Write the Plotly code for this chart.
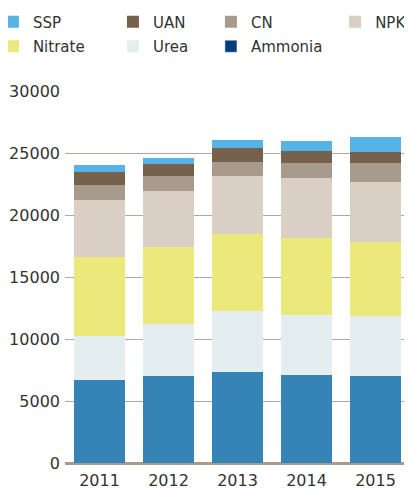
import plotly.graph_objects as go

years = ["2011", "2012", "2013", "2014", "2015"]

# segment heights, bottom of stack first
ammonia = [6700, 7000, 7350, 7100, 7000]
urea = [3570, 4230, 4910, 4840, 4880]
nitrate = [6340, 6190, 6210, 6230, 5970]
npk = [4600, 4520, 4680, 4810, 4810]
cn = [1210, 1210, 1120, 1210, 1530]
uan = [1050, 960, 1130, 970, 890]
ssp = [560, 490, 650, 810, 1210]

# name, values, colour, legend column, rank within column
series = [
    ("Urea", urea, "#e4eef0", "legend2", 2),
    ("Nitrate", nitrate, "#ebe97b", "legend", 2),
    ("NPK", npk, "#d9cfc5", "legend4", 1),
    ("CN", cn, "#a89b8e", "legend3", 1),
    ("UAN", uan, "#76614c", "legend2", 1),
    ("SSP", ssp, "#55b4e5", "legend", 1),
]

fig = go.Figure()

# Ammonia bars are a lighter blue than the legend swatch
fig.add_trace(go.Bar(x=years, y=ammonia, name="Ammonia",
                     marker_color="#3683b5", marker_line_width=0,
                     showlegend=False))
for name, vals, col, leg, rank in series:
    fig.add_trace(go.Bar(x=years, y=vals, name=name, marker_color=col,
                         marker_line_width=0, legend=leg, legendrank=rank,
                         legendgroup=name))
# legend-only entry for Ammonia
fig.add_trace(go.Bar(x=years, y=[None] * len(years), name="Ammonia",
                     marker_color="#003d7c", legend="legend3", legendrank=2,
                     legendgroup="Ammonia"))

leg_font = dict(size=15, color="#333333")
def col_legend(x):
    return dict(orientation="v", x=x, y=1.230, xanchor="left", yanchor="top",
                traceorder="grouped", tracegroupgap=2, font=leg_font,
                bgcolor="rgba(0,0,0,0)")

# page body adds an 8px offset, so margins are shifted to compensate
fig.update_layout(
    width=412, height=488,
    barmode="stack", bargap=0.275,
    margin=dict(l=57, r=10, t=83, b=33, autoexpand=False),
    plot_bgcolor="white", paper_bgcolor="white",
    font=dict(family="DejaVu Sans", size=16, color="#333333"),
    legend=col_legend(-0.209),
    legend2=col_legend(0.139),
    legend3=col_legend(0.423),
    legend4=col_legend(0.783),
    yaxis=dict(
        range=[0, 30000], tickvals=[0, 5000, 10000, 15000, 20000, 25000, 30000],
        showgrid=True, gridcolor="#b3a69a", gridwidth=1.3,
        zeroline=True, zerolinecolor="#a89b8e", zerolinewidth=3,
        showline=False, ticks="", tickformat="d",
        automargin=False, ticklabelstandoff=4,
    ),
    xaxis=dict(showline=False, ticks="", showgrid=False, automargin=False,
               ticklabelstandoff=6),
)

fig.write_html("out.html")
